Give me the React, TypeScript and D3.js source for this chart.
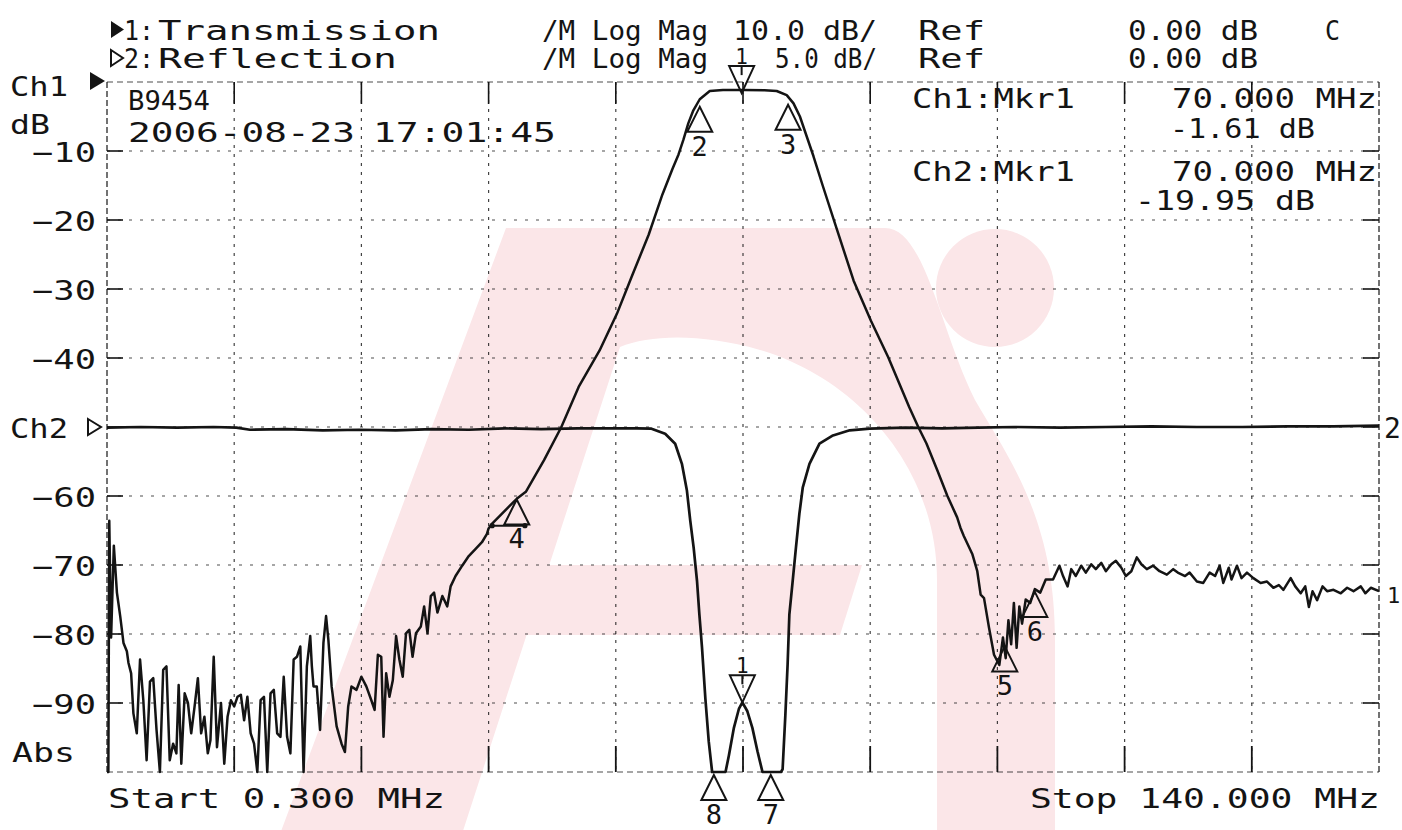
import * as d3 from 'd3';
import React, { useEffect, useRef } from 'react';

type Pt = [number, number]; // [MHz, dB]

const startMHz = 0.3;
const stopMHz = 140;
const ch1RefDb = 0;
const ch1DbPerDiv = 10;
const ch2RefDb = 0;
const ch2DbPerDiv = 5;

const ch1Ticks = [-10, -20, -30, -40, -60, -70, -80, -90];

const header1 = ['1:', 'Transmission', '/M Log Mag', '10.0 dB/', 'Ref', '0.00 dB', 'C'];
const header2 = ['2:', 'Reflection', '/M Log Mag', '5.0 dB/', 'Ref', '0.00 dB'];
const infoLeft = ['B9454', '2006-08-23', '17:01:45'];
const infoMarkers = ['Ch1:Mkr1', '70.000 MHz', '-1.61 dB', 'Ch2:Mkr1', '70.000 MHz', '-19.95 dB'];
const sweepLabels = ['Start 0.300 MHz', 'Stop 140.000 MHz'];

// Ch1 (transmission) trace
const ch1LowNoise: Pt[] = [
  [0.3, -100], [0.45, -100], [0.55, -63.6], [0.75, -80.5], [1.05, -67.2], [1.39, -74.0],
  [1.75, -77.4], [2.11, -81.3], [2.48, -82.5], [2.66, -84.2], [2.95, -85.7], [3.2, -91.5],
  [3.57, -94.4], [3.93, -83.7], [4.29, -89.6], [4.65, -98.3], [5.02, -86.9], [5.38, -86.4],
  [5.74, -93.9], [6.11, -100], [6.47, -85.2], [6.83, -84.7], [7.19, -98.3], [7.56, -95.9],
  [7.92, -97.3], [8.17, -87.4], [8.46, -98.8], [8.83, -88.6], [9.19, -90.0], [9.55, -94.4],
  [9.92, -90.5], [10.28, -86.4], [10.64, -94.4], [11.0, -92.0], [11.37, -97.3], [11.66, -95.4],
  [12.02, -83.3], [12.38, -96.4], [12.82, -90.0], [13.18, -98.8], [13.54, -92.0], [13.91, -89.6],
  [14.27, -90.5], [14.63, -89.1], [15.0, -88.8], [15.36, -92.5], [15.72, -89.1], [16.08, -94.4],
  [16.45, -95.9], [16.81, -100], [17.17, -89.6], [17.54, -89.1], [17.9, -100], [18.26, -88.6],
  [18.62, -88.1], [18.99, -94.4], [19.35, -94.9], [19.71, -86.2], [20.08, -94.9], [20.44, -97.3],
  [20.8, -83.7], [21.16, -83.3], [21.53, -81.8], [21.89, -100], [22.25, -84.7], [22.62, -80.3],
  [22.8, -84.7], [22.98, -87.6], [23.34, -87.6], [23.7, -93.9], [24.07, -81.3], [24.36, -77.4],
  [24.61, -80.8], [24.97, -87.6], [25.52, -93.4], [26.06, -95.9], [26.43, -97.1], [26.79, -90.5],
  [27.15, -87.6], [27.7, -88.1], [28.24, -86.2], [28.78, -87.6], [29.33, -89.6], [29.69, -91.0],
  [30.05, -83.0], [30.42, -83.3], [30.67, -94.9], [30.96, -85.7], [31.32, -89.1], [31.69, -86.7],
  [32.05, -80.3], [32.41, -83.7], [32.78, -86.2], [33.14, -79.9], [33.5, -79.4], [33.86, -83.3],
  [34.23, -79.9], [34.77, -78.9], [35.13, -76.0], [35.5, -79.9], [35.86, -74.5], [36.22, -74.0],
  [36.59, -76.9], [37.13, -74.5], [37.67, -76.0], [38.04, -73.1], [38.58, -71.6], [39.31, -70.1],
  [40.03, -68.7], [40.76, -67.7], [41.48, -66.7], [42.03, -65.5], [42.21, -64.7],
];

const ch1Passband: Pt[] = [
  [42.6, -64.0], [45.3, -60.4], [46.3, -59.4], [48.3, -54.8], [50.2, -50.0], [52.1, -44.2],
  [54.4, -38.9], [56.3, -33.6], [57.9, -28.3], [59.8, -22.1], [61.3, -16.3], [62.4, -12.6],
  [63.07, -10.5], [63.6, -8.4], [64.14, -6.0], [64.7, -4.1], [65.4, -2.5], [66.5, -1.3],
  [67.95, -1.15], [70.3, -1.15], [72.5, -1.2], [73.85, -1.3], [74.95, -1.9], [75.7, -3.1],
  [76.4, -5.0], [77.15, -7.9], [77.9, -10.8], [78.9, -15.0], [80.4, -21.1], [82.3, -28.8],
  [84.2, -34.6], [86.1, -39.9], [88.4, -47.1], [89.4, -50.0], [90.3, -52.4], [91.5, -56.3],
  [92.6, -60.0], [93.67, -63.1], [94.03, -64.6], [94.4, -65.8], [95.33, -68.4], [95.88, -70.9],
  [96.25, -74.3], [96.62, -74.8], [97.17, -79.1], [97.72, -83.0], [98.3, -84.5],
];

const ch1HighNoise: Pt[] = [
  [98.7, -80.5], [99.0, -83.5], [99.3, -78.0], [99.6, -81.5], [99.9, -75.5], [100.2, -82.0],
  [100.5, -76.0], [100.8, -78.5], [101.2, -75.0], [101.7, -75.5], [102.2, -73.5], [102.8, -74.0],
  [103.4, -72.1], [104.2, -72.1], [104.9, -70.1], [105.3, -71.6], [105.8, -73.1], [106.2, -70.6],
  [106.7, -71.6], [107.3, -70.1], [107.8, -71.1], [108.4, -69.9], [108.9, -70.6], [109.5, -69.7],
  [110.0, -70.9], [110.6, -69.9], [111.1, -69.4], [111.7, -70.4], [112.2, -71.6], [112.8, -70.9],
  [113.4, -68.9], [113.9, -69.9], [114.5, -70.6], [115.2, -70.1], [115.9, -70.9], [116.7, -71.4],
  [117.4, -70.6], [117.9, -71.1], [118.7, -71.6], [119.2, -71.1], [120.0, -72.4], [120.7, -72.6],
  [121.4, -71.1], [122.0, -71.6], [122.5, -70.1], [122.9, -72.6], [123.5, -70.4], [123.8, -72.1],
  [124.4, -70.1], [124.9, -71.9], [125.5, -71.1], [126.2, -71.9], [127.0, -72.6], [127.7, -72.4],
  [128.4, -73.3], [129.0, -72.9], [129.5, -73.6], [130.3, -71.9], [130.8, -73.1], [131.4, -74.1],
  [131.9, -73.1], [132.3, -76.1], [132.7, -73.8], [133.2, -75.1], [133.8, -73.1], [134.3, -73.8],
  [135.0, -73.6], [135.8, -74.1], [136.5, -73.3], [137.2, -73.8], [138.0, -73.1], [138.5, -74.1],
  [139.1, -73.3], [140.0, -73.8],
];

// Ch2 (reflection) trace
const ch2Below: Pt[] = [
  [0.3, -0.05], [4, 0.0], [8, -0.05], [12, 0.0], [14.5, -0.05], [16, -0.2], [20, -0.15],
  [24, -0.25], [28, -0.2], [32, -0.25], [36, -0.15], [40, -0.2], [44, -0.1], [48, -0.15],
  [52, -0.1], [56, -0.1], [58.5, -0.1], [60.1, -0.12],
];

const ch2Notch: Pt[] = [
  [61.6, -0.49], [62.7, -1.21], [63.44, -2.67], [63.99, -4.61], [64.36, -6.8], [64.73, -8.74],
  [65.1, -11.16], [65.36, -13.6], [65.65, -16.0], [66.02, -19.7], [66.39, -22.8], [66.76, -26],
  [68.23, -26], [68.6, -23.8], [69.15, -21.8], [69.71, -20.4], [70.08, -19.95], [70.63, -20.6],
  [71.18, -21.8], [71.74, -23.5], [72.29, -26], [74.32, -26], [74.5, -24.8], [74.8, -20.9],
  [75.05, -17.2], [75.24, -13.6], [75.6, -11.2], [75.97, -8.7], [76.34, -6.3], [76.71, -4.4],
  [77.45, -2.67], [78.55, -1.21], [80.03, -0.61], [81.87, -0.24], [84.08, -0.12],
];

const ch2Above: Pt[] = [
  [88, -0.05], [92, -0.1], [96, -0.05], [100, 0.0], [105, -0.05], [110, 0.0], [115, 0.05],
  [120, 0.0], [125, 0.0], [130, 0.05], [135, 0.05], [140, 0.1],
];

const ch1Markers = [
  { id: '1', mhz: 70.0, db: -1.61, active: true },
  { id: '2', mhz: 65.4, db: -3.6, active: false },
  { id: '3', mhz: 75.1, db: -3.3, active: false },
  { id: '4', mhz: 45.3, db: -60.5, active: false },
  { id: '5', mhz: 98.9, db: -81.8, active: false },
  { id: '6', mhz: 102.2, db: -73.9, active: false },
];
const mkr4Line: Pt[] = [[42.6, -64.3], [46.2, -64.3]];

const ch2Markers = [
  { id: '1', mhz: 70.08, db: -19.95, active: true },
  { id: '8', mhz: 66.95, db: -26, active: false },
  { id: '7', mhz: 73.2, db: -26, active: false },
];

const App: React.FC = () => {
  const ref = useRef<SVGSVGElement | null>(null);

  useEffect(() => {
    if (!ref.current) return;
    const svg = d3.select(ref.current);
    svg.selectAll('*').remove();

    const W = 1402;
    const H = 830;
    const L = 107, R = 1379, T = 82, B = 772;
    const ink = '#141414';

    const x = d3.scaleLinear().domain([startMHz, stopMHz]).range([L, R]);
    const y1 = d3
      .scaleLinear()
      .domain([ch1RefDb, ch1RefDb - 10 * ch1DbPerDiv])
      .range([T, B])
      .clamp(true);
    const y2 = d3
      .scaleLinear()
      .domain([ch2RefDb + 5 * ch2DbPerDiv, ch2RefDb - 5 * ch2DbPerDiv])
      .range([T, B])
      .clamp(true);

    svg
      .attr('width', W)
      .attr('height', H)
      .style('font-family', "'DejaVu Sans Mono', monospace");
    svg.append('rect').attr('width', W).attr('height', H).attr('fill', '#fff');

    // pink watermark logo
    const wm = svg.append('g').attr('fill', '#fbe6e8');
    wm.append('path').attr(
      'd',
      'M280,834 L506,228 L885,228 C925,228 940,330 975,400 C1010,460 1055,520 1055,640 ' +
        'L1055,834 L937,834 L937,580 C937,470 860,380 760,350 C700,333 650,335 620,347 L462,834 Z'
    );
    wm.append('path').attr('d', 'M440,565 L862,565 L840,635 L415,635 Z');
    wm.append('circle').attr('cx', 995).attr('cy', 288).attr('r', 59);

    // graticule
    const grid = svg.append('g').attr('stroke', ink).attr('fill', 'none');
    const xDivs = d3.range(11).map((i) => startMHz + (i * (stopMHz - startMHz)) / 10);
    const yDivs = d3.range(11).map((i) => ch1RefDb - i * ch1DbPerDiv);

    xDivs.forEach((f, i) => {
      const edge = i === 0 || i === 10;
      grid
        .append('line')
        .attr('x1', x(f))
        .attr('x2', x(f))
        .attr('y1', T)
        .attr('y2', B)
        .attr('stroke-width', edge ? 1.5 : 1.2)
        .attr('stroke-dasharray', edge ? '6 3' : '3 6')
        .attr('opacity', 0.8);
      if (!edge) {
        grid.append('line').attr('x1', x(f)).attr('x2', x(f)).attr('y1', T).attr('y2', T + 22).attr('stroke-width', 1.6);
        grid.append('line').attr('x1', x(f)).attr('x2', x(f)).attr('y1', B - 26).attr('y2', B).attr('stroke-width', 1.8);
      }
    });
    yDivs.forEach((d, i) => {
      const edge = i === 0 || i === 10;
      grid
        .append('line')
        .attr('x1', L)
        .attr('x2', R)
        .attr('y1', y1(d))
        .attr('y2', y1(d))
        .attr('stroke-width', 1.2)
        .attr('stroke-dasharray', edge ? '6 4' : '3 8')
        .attr('opacity', 0.75);
      if (!edge) {
        grid.append('line').attr('x1', L).attr('x2', L + 16).attr('y1', y1(d)).attr('y2', y1(d)).attr('stroke-width', 1.6);
        grid.append('line').attr('x1', R - 16).attr('x2', R).attr('y1', y1(d)).attr('y2', y1(d)).attr('stroke-width', 1.6);
      }
    });

    // traces
    const line1 = d3.line<Pt>().x((d) => x(d[0])).y((d) => y1(d[1]));
    const line2 = d3.line<Pt>().x((d) => x(d[0])).y((d) => y2(d[1]));

    svg
      .append('path')
      .datum([...ch2Below, ...ch2Notch, ...ch2Above])
      .attr('d', line2)
      .attr('fill', 'none')
      .attr('stroke', ink)
      .attr('stroke-width', 2.7)
      .attr('stroke-linejoin', 'round');

    svg
      .append('path')
      .datum([...ch1LowNoise, ...ch1Passband, ...ch1HighNoise])
      .attr('d', line1)
      .attr('fill', 'none')
      .attr('stroke', ink)
      .attr('stroke-width', 2.5)
      .attr('stroke-linejoin', 'round');

    // marker 4 reference bar
    svg
      .append('path')
      .datum(mkr4Line)
      .attr('d', line1)
      .attr('stroke', ink)
      .attr('stroke-width', 2);
    mkr4Line.forEach((p) => {
      svg.append('circle').attr('cx', x(p[0])).attr('cy', y1(p[1])).attr('r', 2.6).attr('fill', ink);
    });

    const text = (s: string, px: number, py: number, size: number, len?: number, anchor = 'start') => {
      const t = svg
        .append('text')
        .attr('x', px)
        .attr('y', py)
        .attr('font-size', size)
        .attr('text-anchor', anchor)
        .attr('fill', ink)
        .text(s);
      if (len) t.attr('textLength', len).attr('lengthAdjust', 'spacingAndGlyphs');
      return t;
    };

    // markers
    const drawMarker = (
      m: { id: string; mhz: number; db: number; active: boolean },
      yScale: d3.ScaleLinear<number, number>
    ) => {
      const px = x(m.mhz);
      const py = yScale(m.db) + (m.db < -25 && yScale === y2 ? 3 : 0);
      const g = svg.append('g');
      if (m.active) {
        g.append('path')
          .attr('d', `M${px},${py}L${px - 12.5},${py - 27}L${px + 12.5},${py - 27}Z`)
          .attr('fill', 'none')
          .attr('stroke', ink)
          .attr('stroke-width', 2);
        g.append('line').attr('x1', px).attr('x2', px).attr('y1', py - 27).attr('y2', py - 18).attr('stroke', ink).attr('stroke-width', 2);
        text(m.id, px, py - 29, 21, undefined, 'middle');
      } else {
        g.append('path')
          .attr('d', `M${px},${py}L${px - 12.5},${py + 25}L${px + 12.5},${py + 25}Z`)
          .attr('fill', 'none')
          .attr('stroke', ink)
          .attr('stroke-width', 2);
        text(m.id, px, py + 49, 27, undefined, 'middle');
      }
    };
    ch1Markers.forEach((m) => drawMarker(m, y1));
    ch2Markers.forEach((m) => drawMarker(m, y2));

    // header
    svg.append('path').attr('d', 'M111,21 L124,29.5 L111,38 Z').attr('fill', ink);
    svg.append('path').attr('d', 'M111,50 L123,58 L111,66 Z').attr('fill', 'none').attr('stroke', ink).attr('stroke-width', 2);
    const h1x = [124, 158, 542, 733, 918, 1128, 1325];
    const h1w = [30, 282, 166, 144, 67, 130, 15];
    header1.forEach((s, i) => text(s, h1x[i], 40, 27, h1w[i]));
    const h2x = [124, 158, 542, 775, 918, 1128];
    const h2w = [30, 239, 166, 102, 67, 130];
    header2.forEach((s, i) => text(s, h2x[i], 68, 27, h2w[i]));

    // left scale
    text('Ch1', 10, 96, 27, 58);
    svg.append('path').attr('d', 'M90,72 L105,81 L90,90 Z').attr('fill', ink);
    text('dB', 10, 134, 27, 40);
    ch1Ticks.forEach((d) => text(`−${Math.abs(d)}`, 96, y1(d) + 11, 27, 64, 'end'));
    text('Ch2', 10, y2(ch2RefDb) + 11, 27, 58);
    svg
      .append('path')
      .attr('d', `M88,${y2(ch2RefDb) - 8} L101,${y2(ch2RefDb)} L88,${y2(ch2RefDb) + 8} Z`)
      .attr('fill', 'none')
      .attr('stroke', ink)
      .attr('stroke-width', 2);
    text('Abs', 12, 762, 27, 63);

    // trace end labels
    text('2', 1384, y2(ch2RefDb) + 11, 28);
    text('1', 1387, y1(ch1HighNoise[ch1HighNoise.length - 1][1]) + 12, 22);

    // info block
    text(infoLeft[0], 128, 110, 27, 82);
    text(infoLeft[1], 128, 142, 27, 227);
    text(infoLeft[2], 373, 142, 27, 183);

    text(infoMarkers[0], 912, 108, 27, 163);
    text(infoMarkers[1], 1172, 108, 27, 205);
    text(infoMarkers[2], 1170, 138, 27, 145);
    text(infoMarkers[3], 912, 181, 27, 163);
    text(infoMarkers[4], 1172, 181, 27, 205);
    text(infoMarkers[5], 1135, 210, 27, 180);

    // sweep
    text(sweepLabels[0], 108, 808, 27, 337);
    text(sweepLabels[1], 1030, 808, 27, 350);
  }, []);

  return <svg ref={ref} style={{ position: 'absolute', left: 0, top: 0 }}></svg>;
};

export default App;
